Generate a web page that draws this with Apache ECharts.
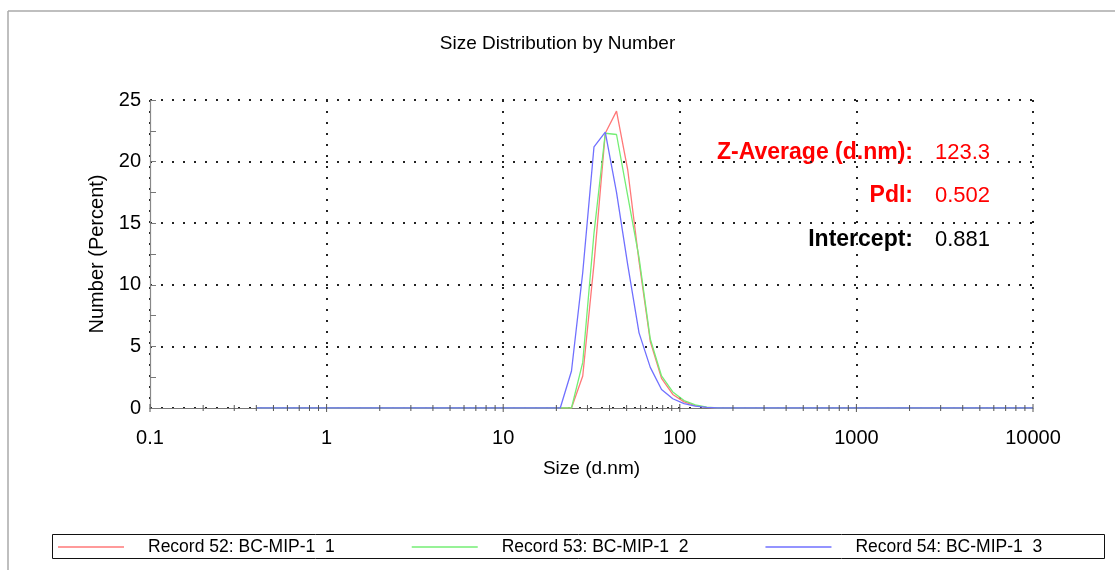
<!DOCTYPE html>
<html lang="en">
  <head>
    <meta charset="UTF-8" />
    <title>Size Distribution by Number</title>
    <script src="https://cdn.jsdelivr.net/npm/echarts@6/dist/echarts.min.js"></script>
    <style>
      html, body { margin: 0; padding: 0; background: #fff; }
      .echarts { width: 1115px; height: 570px; }
    </style>
  </head>
  <body>
    <div class="echarts"></div>
    <script>
        // size classes (d.nm)
        const sizes = [
            0.4, 0.4632, 0.5365, 0.6213, 0.7195, 0.8332, 0.9649, 1.117, 1.294, 1.499,
            1.736, 2.01, 2.328, 2.696, 3.122, 3.615, 4.187, 4.849, 5.615, 6.503,
            7.531, 8.721, 10.1, 11.7, 13.54, 15.69, 18.17, 21.04, 24.36, 28.21,
            32.67, 37.84, 43.82, 50.75, 58.77, 68.06, 78.82, 91.28, 105.7, 122.4,
            141.8, 164.2, 190.1, 220.2, 255, 295.3, 342, 396.1, 458.7, 531.2,
            615.1, 712.4, 825, 955.4, 1106, 1281, 1484, 1718, 1990, 2305,
            2669, 3091, 3580, 4145, 4801, 5560, 6439, 7456, 8635, 10000
        ]

        // number (%) per size class
        const record52 = [
            0, 0, 0, 0, 0, 0, 0, 0, 0, 0,
            0, 0, 0, 0, 0, 0, 0, 0, 0, 0,
            0, 0, 0, 0, 0, 0, 0, 0, 0, 2.6,
            11.7, 22.3, 24.1, 19.3, 11.9, 5.4, 2.4, 1.1, 0.5, 0.2,
            0.05, 0, 0, 0, 0, 0, 0, 0, 0, 0,
            0, 0, 0, 0, 0, 0, 0, 0, 0, 0,
            0, 0, 0, 0, 0, 0, 0, 0, 0, 0
        ]
        const record53 = [
            0, 0, 0, 0, 0, 0, 0, 0, 0, 0,
            0, 0, 0, 0, 0, 0, 0, 0, 0, 0,
            0, 0, 0, 0, 0, 0, 0, 0, 0, 3.7,
            14.2, 22.3, 22.2, 17.2, 12.2, 5.6, 2.6, 1.3, 0.6, 0.25,
            0.07, 0, 0, 0, 0, 0, 0, 0, 0, 0,
            0, 0, 0, 0, 0, 0, 0, 0, 0, 0,
            0, 0, 0, 0, 0, 0, 0, 0, 0, 0
        ]
        const record54 = [
            0, 0, 0, 0, 0, 0, 0, 0, 0, 0,
            0, 0, 0, 0, 0, 0, 0, 0, 0, 0,
            0, 0, 0, 0, 0, 0, 0, 0, 3.0, 11.0,
            21.2, 22.4, 17.5, 11.6, 6.1, 3.3, 1.5, 0.75, 0.35, 0.15,
            0.05, 0, 0, 0, 0, 0, 0, 0, 0, 0,
            0, 0, 0, 0, 0, 0, 0, 0, 0, 0,
            0, 0, 0, 0, 0, 0, 0, 0, 0, 0
        ]

        const seriesNames = ['Record 52: BC-MIP-1  1', 'Record 53: BC-MIP-1  2', 'Record 54: BC-MIP-1  3']
        const seriesColors = ['#ff7878', '#74ee74', '#7070ff']

        // x axis tick marks (decades + 2..9 in between)
        const xTicks = []
        for (let d = 0.1; d < 10000; d *= 10) {
            for (let k = 1; k < 10; k++) xTicks.push([+(d * k).toPrecision(3), k === 1 ? 1 : 0])
        }
        xTicks.push([10000, 1])

        const FONT = 'Liberation Sans'
        const myCharts = echarts.init(document.querySelector('.echarts'))

        const lineSeries = [record52, record53, record54].map((vals, i) => ({
            name: seriesNames[i],
            type: 'line',
            symbol: 'none',
            silent: true,
            z: 3 + i,
            lineStyle: {color: seriesColors[i], width: 1.3},
            itemStyle: {color: seriesColors[i]},
            data: sizes.map((s, j) => [s, vals[j]])
        }))

        const option = {
            animation: false,
            textStyle: {fontFamily: FONT},
            title: {
                text: 'Size Distribution by Number',
                left: 'center',
                top: 29,
                textStyle: {fontFamily: FONT, fontSize: 19, fontWeight: 'normal', color: '#000'}
            },
            grid: {left: 150, right: 82, top: 100, bottom: 162},
            legend: {
                data: seriesNames,
                left: 58,
                top: 538,
                padding: 0,
                icon: 'rect',
                itemWidth: 66,
                itemHeight: 1.5,
                itemGap: 77,
                textStyle: {fontFamily: FONT, fontSize: 17.5, color: '#000', padding: [0, 0, 0, 19]}
            },
            xAxis: {
                type: 'log',
                logBase: 10,
                min: 0.1,
                max: 10000,
                name: 'Size (d.nm)',
                nameLocation: 'middle',
                nameGap: 51,
                nameTextStyle: {fontFamily: FONT, fontSize: 19, color: '#000'},
                axisLine: {lineStyle: {color: '#777', width: 1.2}},
                axisTick: {show: false},
                axisLabel: {
                    fontFamily: FONT, fontSize: 20, color: '#000', margin: 20,
                    formatter: (v) => String(Number((+v).toPrecision(6)))
                },
                splitLine: {show: true, lineStyle: {color: '#222', width: 2, type: [2, 9]}}
            },
            yAxis: {
                type: 'value',
                min: 0,
                max: 25,
                interval: 5,
                name: 'Number (Percent)',
                nameLocation: 'middle',
                nameGap: 42,
                nameTextStyle: {fontFamily: FONT, fontSize: 20, color: '#000'},
                axisLine: {show: true, lineStyle: {color: '#888', width: 1.2}},
                axisTick: {show: true, inside: true, length: 6, lineStyle: {color: '#777'}},
                minorTick: {show: true, splitNumber: 2, length: 6, lineStyle: {color: '#777'}},
                axisLabel: {fontFamily: FONT, fontSize: 20, color: '#000', margin: 9},
                splitLine: {show: true, lineStyle: {color: '#222', width: 2, type: [2, 9]}}
            },
            series: [
                ...lineSeries,
                {
                    type: 'custom',
                    name: 'ticks',
                    silent: true,
                    z: 10,
                    data: xTicks.map((t) => [t[0], 0, t[1]]),
                    renderItem: (params, api) => {
                        const p = api.coord([api.value(0), 0])
                        const h = api.value(2) ? 4 : 3
                        return {
                            type: 'line',
                            shape: {x1: p[0], y1: p[1] - h, x2: p[0], y2: p[1] + h},
                            style: {stroke: '#555', lineWidth: 1}
                        }
                    }
                }
            ],
            graphic: [
                // outer frame
                {type: 'line', shape: {x1: 8, y1: 11, x2: 1115, y2: 11}, style: {stroke: '#aaa', lineWidth: 1.5}},
                {type: 'line', shape: {x1: 8, y1: 11, x2: 8, y2: 570}, style: {stroke: '#aaa', lineWidth: 1.5}},
                // legend box
                {type: 'rect', shape: {x: 52.5, y: 534.5, width: 1052, height: 24}, style: {fill: null, stroke: '#111', lineWidth: 1}},
                // result notes
                {type: 'text', x: 913, y: 153, style: {text: 'Z-Average (d.nm):', align: 'right', verticalAlign: 'middle', fill: '#ff0000', font: 'bold 23px "Liberation Sans"'}},
                {type: 'text', x: 935, y: 153, style: {text: '123.3', align: 'left', verticalAlign: 'middle', fill: '#ff0000', font: '22px "Liberation Sans"'}},
                {type: 'text', x: 913, y: 196, style: {text: 'PdI:', align: 'right', verticalAlign: 'middle', fill: '#ff0000', font: 'bold 23px "Liberation Sans"'}},
                {type: 'text', x: 935, y: 196, style: {text: '0.502', align: 'left', verticalAlign: 'middle', fill: '#ff0000', font: '22px "Liberation Sans"'}},
                {type: 'text', x: 913, y: 240, style: {text: 'Intercept:', align: 'right', verticalAlign: 'middle', fill: '#000', font: 'bold 23px "Liberation Sans"'}},
                {type: 'text', x: 935, y: 240, style: {text: '0.881', align: 'left', verticalAlign: 'middle', fill: '#000', font: '22px "Liberation Sans"'}}
            ]
        }

        myCharts.setOption(option)
    </script>
  </body>
</html>
